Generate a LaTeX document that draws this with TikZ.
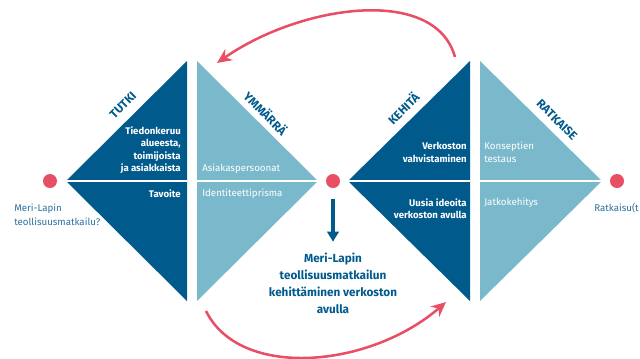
\documentclass[tikz,border=0pt]{standalone}
\usepackage{fontspec}
\setmainfont{Fira Sans}
\usetikzlibrary{arrows.meta}
\definecolor{deepblue}{RGB}{0,90,140}
\definecolor{paleblue}{RGB}{122,185,203}
\definecolor{dotred}{RGB}{232,78,100}
\definecolor{labelblue}{RGB}{45,112,160}

\begin{document}
\begin{tikzpicture}[x=0.75pt,y=0.75pt,yscale=-1,xscale=1,
  dot/.style={circle,fill=dotred,inner sep=0pt,minimum size=10.5pt},
  phase/.style={font=\bfseries\fontsize{9}{10}\selectfont,text=deepblue,inner sep=0pt},
  intext/.style={font=\fontsize{7.3}{9.4}\selectfont,text=white,inner sep=0pt},
  boldtext/.style={font=\bfseries\fontsize{7.2}{9.4}\selectfont,text=white,inner sep=0pt},
  sidetext/.style={font=\fontsize{7.3}{10.5}\selectfont,text=labelblue,inner sep=0pt,align=left},
  goaltext/.style={font=\bfseries\fontsize{8.8}{12.75}\selectfont,text=deepblue,inner sep=0pt,align=center},
  splitline/.style={draw=white,line width=1.2pt},
  roundarrow/.style={draw=dotred,line width=1.9pt,-{Stealth[length=11pt,width=10pt]}},
  downarrow/.style={draw=deepblue,line width=2.3pt,-{Triangle[length=7.5pt,width=8.5pt]}}]
\useasboundingbox (0,0) rectangle (640,358);

%Triangles
\fill[deepblue] (66,181) -- (187,61) -- (187,301) -- cycle;
\fill[paleblue] (197,61) -- (318,181) -- (197,301) -- cycle;
\fill[deepblue] (348,181) -- (470,61) -- (470,301) -- cycle;
\fill[paleblue] (480,61) -- (602,181) -- (480,301) -- cycle;
%Split lines
\draw[splitline] (66,181) -- (187,181);
\draw[splitline] (197,181) -- (318,181);
\draw[splitline] (348,181) -- (470,181);
\draw[splitline] (480,181) -- (602,181);

%Dots
\node[dot] (start) at (50,181) {};
\node[dot] (mid) at (333,181) {};
\node[dot] (end) at (617,181) {};

%Phase labels
\node[phase,rotate=45] (tutki) at (123,105) {TUTKI};
\node[phase,rotate=-45] (ymmarra) at (266,113) {YMMÄRRÄ};
\node[phase,rotate=45] (kehita) at (403,108) {KEHITÄ};
\node[phase,rotate=-45] (ratkaise) at (557,120) {RATKAISE};

%Texts in triangles
\node[boldtext,anchor=east,align=right] (tiedon) at (181,150) {Tiedonkeruu\\alueesta,\\toimijoista\\ja asiakkaista};
\node[boldtext,anchor=east] (tavoite) at (181,194) {Tavoite};
\node[intext,anchor=west] (persoonat) at (202,169) {Asiakaspersoonat};
\node[intext,anchor=west] (prisma) at (202,194) {Identiteettiprisma};
\node[boldtext,anchor=east,align=right] (verkosto) at (467,152.5) {Verkoston\\vahvistaminen};
\node[boldtext,anchor=east,align=right] (ideoita) at (467,208.5) {Uusia ideoita\\verkoston avulla};
\node[intext,anchor=west,align=left] (konsepti) at (484,152.5) {Konseptien\\testaus};
\node[intext,anchor=west] (jatko) at (484,203) {Jatkokehitys};

%Side texts
\node[sidetext,anchor=west] (question) at (14,215) {Meri-Lapin\\teollisuusmatkailu?};
\node[sidetext,anchor=east] (answer) at (639,208) {Ratkaisu(t};

%Goal
\node[goaltext] (goal) at (333,283) {Meri-Lapin\\teollisuusmatkailun\\kehittäminen verkoston\\avulla};
\draw[downarrow,shorten <=8pt,shorten >=8pt] (mid) -- (goal);

%Curved arrows
\coordinate (backA) at (455,57);
\coordinate (backB) at (217,63);
\coordinate (fwdA) at (206,311);
\coordinate (fwdB) at (446,302);
\draw[roundarrow] (backA) .. controls (435,-15) and (300,5) .. (backB);
\draw[roundarrow] (fwdA) .. controls (240,380) and (370,368) .. (fwdB);

\end{tikzpicture}
\end{document}
